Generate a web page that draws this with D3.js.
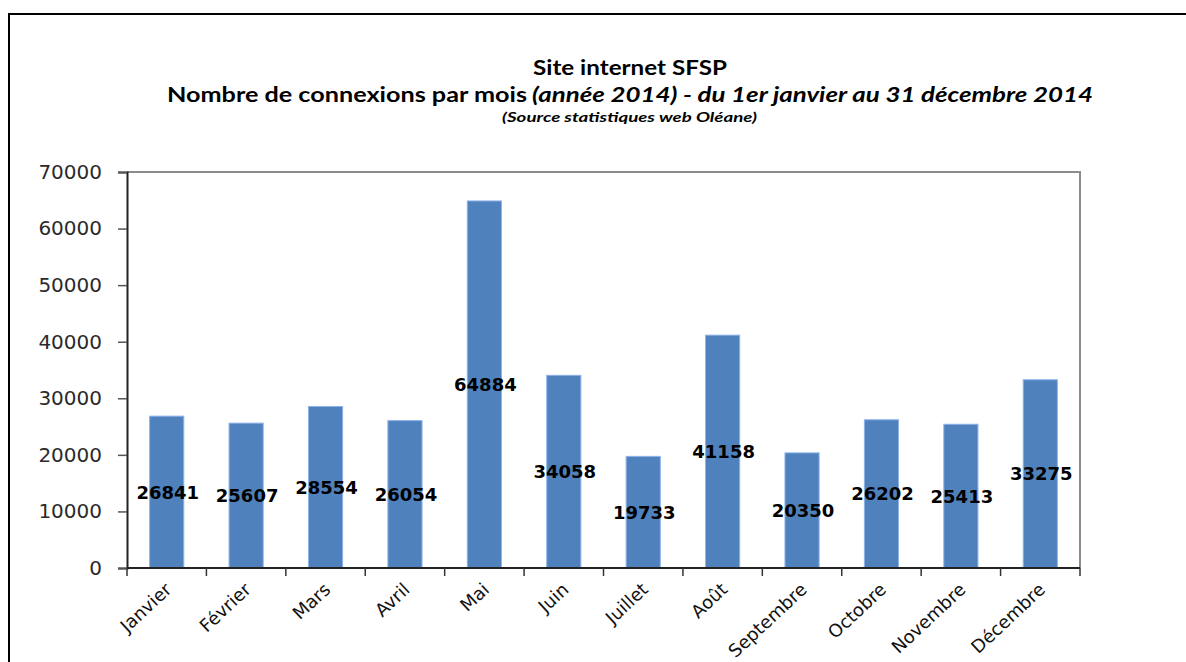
<!DOCTYPE html>
<html>
<head>
<meta charset="utf-8">
<script src="https://cdn.jsdelivr.net/npm/d3@7"></script>
<style>
  html, body { margin: 0; padding: 0; background: #fff; }
  svg { display: block; }
</style>
</head>
<body>
<svg id="chart" width="1186" height="662"></svg>
<script>
const months = ["Janvier","Février","Mars","Avril","Mai","Juin","Juillet","Août","Septembre","Octobre","Novembre","Décembre"];
const connexions = [26841,25607,28554,26054,64884,34058,19733,41158,20350,26202,25413,33275];
const yTicks = [0,10000,20000,30000,40000,50000,60000,70000];
const titleLine1 = "Site internet SFSP";
const titleLine2a = "Nombre de connexions par mois ";
const titleLine2b = "(année 2014) - du 1er janvier au 31 décembre 2014";
const titleLine3 = "(Source statistiques web Oléane)";

(function () {
const svg = d3.select("#chart");

// outer frame (top and left edges visible)
svg.append("path")
  .attr("d", "M9,662 L9,14 L1186,14")
  .attr("fill", "none").attr("stroke", "#000").attr("stroke-width", 2);

// titles
const tf = "Lato, 'Open Sans', sans-serif";
svg.append("text").attr("x", 533).attr("y", 75)
  .attr("font-family", tf).attr("font-weight", "bold").attr("font-size", 20)
  .attr("textLength", 194).attr("lengthAdjust", "spacingAndGlyphs")
  .text(titleLine1);
svg.append("text").attr("x", 167).attr("y", 102)
  .attr("font-family", tf).attr("font-weight", "bold").attr("font-size", 20)
  .attr("textLength", 360).attr("lengthAdjust", "spacingAndGlyphs")
  .text(titleLine2a);
svg.append("text").attr("x", 532).attr("y", 102)
  .attr("font-family", tf).attr("font-weight", "bold").attr("font-style", "italic").attr("font-size", 20)
  .attr("textLength", 561).attr("lengthAdjust", "spacingAndGlyphs")
  .text(titleLine2b);
svg.append("text").attr("x", 502).attr("y", 122)
  .attr("font-family", tf).attr("font-weight", "bold").attr("font-style", "italic").attr("font-size", 13)
  .attr("textLength", 255).attr("lengthAdjust", "spacingAndGlyphs")
  .text(titleLine3);

// plot area
const pLeft = 127, pRight = 1080, pTop = 172, pBottom = 568;
const x = d3.scaleBand().domain(months).range([pLeft, pRight]).paddingInner(0.57).paddingOuter(0.285);
const xb = d3.scaleBand().domain(months).range([pLeft, pRight]);
const y = d3.scaleLinear().domain([0, 70000]).range([pBottom, pTop]);

// top & right frame of plot area
svg.append("path")
  .attr("d", `M${pLeft},${pTop} L${pRight},${pTop} L${pRight},${pBottom}`)
  .attr("fill", "none").attr("stroke", "#8c8c8c").attr("stroke-width", 2);

// bars
svg.append("g").selectAll("rect").data(connexions).join("rect")
  .attr("x", (d, i) => x(months[i]))
  .attr("y", d => y(d))
  .attr("width", x.bandwidth())
  .attr("height", d => y(0) - y(d))
  .attr("fill", "#4f81bd")
  .attr("stroke", "#8db3ea").attr("stroke-width", 1);

// y axis
const yAxis = svg.append("g").attr("transform", `translate(${pLeft},0)`)
  .call(d3.axisLeft(y).tickValues(yTicks).tickFormat(d3.format("d")).tickSize(9).tickPadding(16));
yAxis.select(".domain").attr("stroke", "#222").attr("stroke-width", 2);
yAxis.selectAll(".tick line").attr("stroke", "#555").attr("stroke-width", 1.5);
yAxis.selectAll(".tick text")
  .attr("font-family", "'DejaVu Sans', Verdana, sans-serif").attr("font-size", 20).attr("fill", "#2a2a2a");

// x axis
const xAxisG = svg.append("g").attr("transform", `translate(0,${pBottom})`);
xAxisG.append("line").attr("x1", pLeft).attr("x2", pRight).attr("y1", 0).attr("y2", 0)
  .attr("stroke", "#222").attr("stroke-width", 2);
const boundaries = months.map(m => xb(m)).concat([pRight]);
xAxisG.selectAll("line.tk").data(boundaries).join("line").attr("class", "tk")
  .attr("x1", d => d).attr("x2", d => d).attr("y1", 0).attr("y2", 8)
  .attr("stroke", "#333").attr("stroke-width", 1.5);
xAxisG.selectAll("text").data(months).join("text")
  .attr("transform", d => `translate(${xb(d) + xb.bandwidth() / 2 + 6},${23}) rotate(-43)`)
  .attr("text-anchor", "end")
  .attr("font-family", "'DejaVu Sans', Verdana, sans-serif").attr("font-size", 18).attr("fill", "#111")
  .text(d => d);

// value labels (centered in bar)
svg.append("g").selectAll("text").data(connexions).join("text")
  .attr("x", (d, i) => x(months[i]) + x.bandwidth() / 2 + 1)
  .attr("y", d => (y(d) + y(0)) / 2)
  .attr("dy", "0.36em")
  .attr("text-anchor", "middle")
  .attr("font-family", "'DejaVu Sans', Verdana, sans-serif").attr("font-weight", "bold").attr("font-size", 18)
  .attr("fill", "#000")
  .text(d => d);
})();
</script>
</body>
</html>
